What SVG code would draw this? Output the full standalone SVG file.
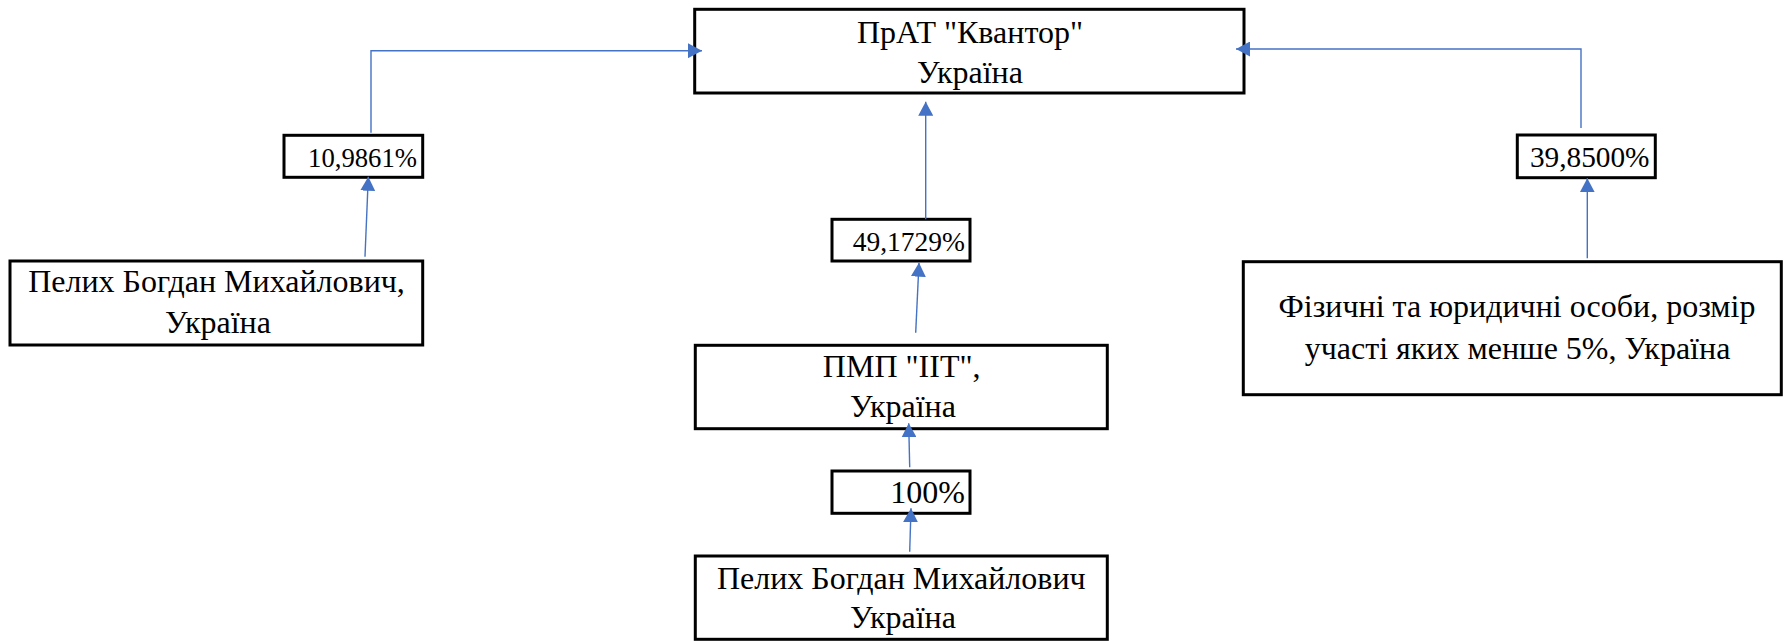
<svg xmlns="http://www.w3.org/2000/svg" width="1784" height="641" viewBox="0 0 1784 641">
<style>
.box{fill:#fff;stroke:#000;stroke-width:3}
text{font-family:'Liberation Serif','Times New Roman',serif;fill:#000}
.t{font-size:32px;text-anchor:middle}
.lbl{text-anchor:end}
.c{fill:none;stroke:#4472C4;stroke-width:1.4}
</style>
<defs>
<marker id="ah" viewBox="0 0 14 15" refX="14" refY="7.5" markerWidth="14" markerHeight="15" markerUnits="userSpaceOnUse" orient="auto">
<path d="M0,0 L14,7.5 L0,15 z" fill="#4472C4"/>
</marker>
</defs>
<rect width="1784" height="641" fill="#fff"/>
<g id="n-kvantor">
<rect class="box" x="694.7" y="9.3" width="549.3" height="83.7"/>
<text class="t" x="970" y="42.7">ПрАТ "Квантор"</text>
<text class="t" x="970" y="83.3">Україна</text>
</g>
<g id="n-pelykh1">
<rect class="box" x="10" y="261" width="412.7" height="84"/>
<text class="t" x="216.5" y="291.7">Пелих Богдан Михайлович,</text>
<text class="t" x="218" y="333.3">Україна</text>
</g>
<g id="n-lbl-10">
<rect class="box" x="284" y="135.3" width="138.7" height="42"/>
<text class="lbl" x="417" y="167.3" font-size="26.7">10,9861%</text>
</g>
<g id="n-lbl-39">
<rect class="box" x="1517.3" y="135" width="138" height="42.7"/>
<text class="lbl" x="1649.5" y="166.7" font-size="29.3">39,8500%</text>
</g>
<g id="n-others">
<rect class="box" x="1243.3" y="261.7" width="538" height="133"/>
<text class="t" x="1517" y="316.8">Фізичні та юридичні особи, розмір</text>
<text class="t" x="1517.5" y="358.8">участі яких менше 5%, Україна</text>
</g>
<g id="n-lbl-49">
<rect class="box" x="832" y="219.3" width="138" height="41.7"/>
<text class="lbl" x="965" y="250.7" font-size="27.5">49,1729%</text>
</g>
<g id="n-pmp">
<rect class="box" x="695.3" y="345.3" width="412" height="83.4"/>
<text class="t" x="901.7" y="377.3">ПМП "ІІТ",</text>
<text class="t" x="903" y="417.3">Україна</text>
</g>
<g id="n-lbl-100">
<rect class="box" x="832" y="471" width="138" height="42.3"/>
<text class="lbl" x="965" y="502.7" font-size="32">100%</text>
</g>
<g id="n-pelykh2">
<rect class="box" x="695.3" y="556" width="412" height="83.3"/>
<text class="t" x="901.3" y="589.3">Пелих Богдан Михайлович</text>
<text class="t" x="903" y="628.3">Україна</text>
</g>
<g id="connectors">
<path class="c" d="M365,256.7 L368.3,176.7" marker-end="url(#ah)"/>
<path class="c" d="M371,132.7 V50.7 H702" marker-end="url(#ah)"/>
<path class="c" d="M1581,128 V49 H1236" marker-end="url(#ah)"/>
<path class="c" d="M1587.3,258.3 V178.3" marker-end="url(#ah)"/>
<path class="c" d="M925.7,219.3 V101.7" marker-end="url(#ah)"/>
<path class="c" d="M915.7,332.7 L919,262.7" marker-end="url(#ah)"/>
<path class="c" d="M909.7,467.3 L908.7,423.3" marker-end="url(#ah)"/>
<path class="c" d="M909.7,551.7 L911,508.3" marker-end="url(#ah)"/>
</g>
</svg>
